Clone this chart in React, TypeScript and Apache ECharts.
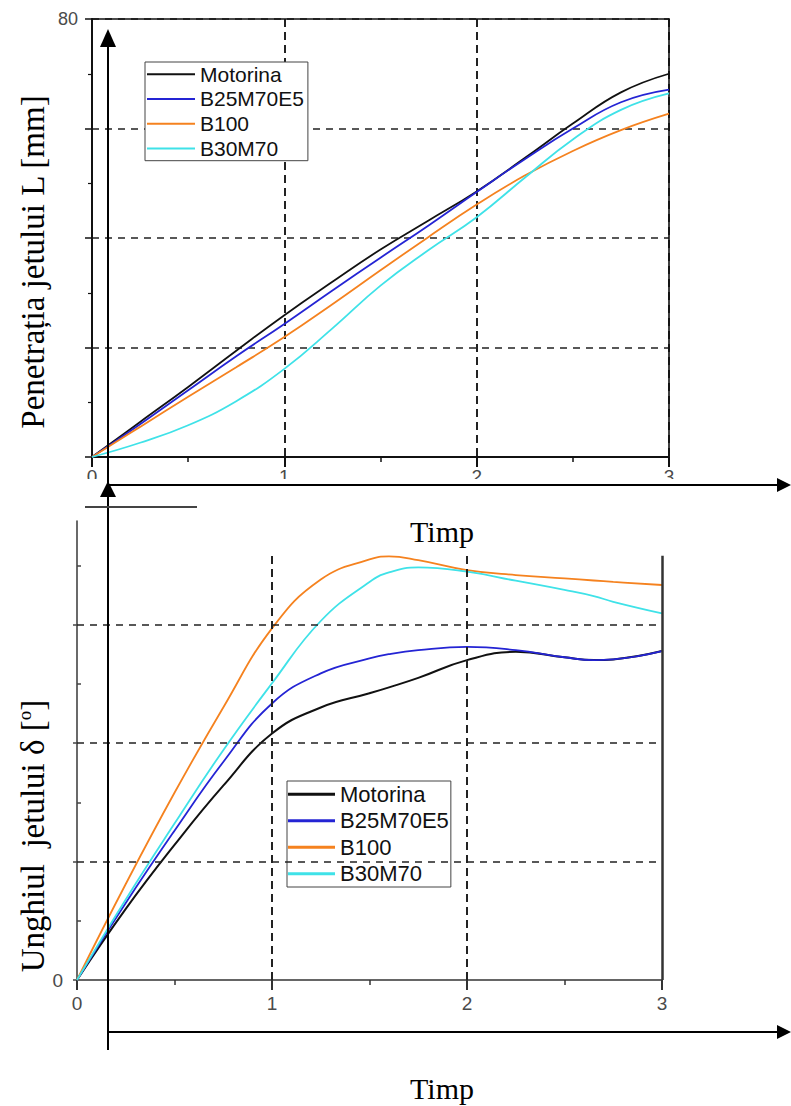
import React, { useEffect, useRef } from 'react';
import * as echarts from 'echarts';

const SANS = '"Liberation Sans", Arial, sans-serif';
const SERIF = '"Liberation Serif", "Times New Roman", serif';

const SERIES_NAMES = ['Motorina', 'B25M70E5', 'B100', 'B30M70'];
const COLORS = ['#111111', '#2424d4', '#f5821f', '#3fe2e8'];

// Top chart: jet penetration L [mm] vs time
const TOP_X = [0, 0.25, 0.5, 0.75, 1, 1.25, 1.5, 1.75, 2, 2.25, 2.5, 2.75, 3];
const TOP_MOTORINA = [0, 6.4, 12.8, 19.4, 25.9, 32.0, 37.9, 43.2, 48.5, 54.6, 60.9, 66.6, 70.0];
const TOP_B25M70E5 = [0, 6.0, 12.2, 18.4, 24.3, 30.4, 36.4, 42.3, 48.4, 54.4, 60.0, 64.8, 67.1];
const TOP_B100 = [0, 5.5, 11.0, 16.4, 21.9, 27.9, 34.1, 40.2, 46.1, 51.4, 55.9, 59.7, 62.7];
const TOP_B30M70 = [0, 2.6, 5.8, 10.2, 16.1, 23.5, 31.3, 37.8, 43.8, 51.0, 58.0, 63.4, 66.4];
const TOP_Y_LABELS = [80];
const TOP_X_LABELS = [0, 1, 2, 3];

// Bottom chart: jet angle delta vs time
const BOT_X = [0, 0.25, 0.5, 0.75, 1, 1.25, 1.5, 1.6, 1.75, 2, 2.25, 2.5, 2.65, 2.75, 3];
const BOT_MOTORINA = [0, 3.0, 5.7, 8.2, 10.4, 11.5, 12.1, 12.35, 12.75, 13.5, 13.85, 13.62, 13.5, 13.53, 13.88];
const BOT_B25M70E5 = [0, 3.25, 6.3, 9.2, 11.67, 12.94, 13.57, 13.75, 13.92, 14.06, 13.92, 13.62, 13.5, 13.53, 13.88];
const BOT_B100 = [0, 4.05, 7.9, 11.5, 14.84, 16.9, 17.75, 17.88, 17.72, 17.3, 17.09, 16.95, 16.86, 16.8, 16.67];
const BOT_B30M70 = [0, 3.4, 6.6, 9.7, 12.52, 15.15, 16.8, 17.2, 17.41, 17.23, 16.85, 16.46, 16.2, 15.96, 15.47];
const BOT_Y_MAX = 19.37;
const BOT_FRAME_TOP = 17.9;
const BOT_GRID_Y = [5, 10, 15];
const BOT_GRID_X = [1, 2];
const BOT_MAJOR_TICKS = [0, 5, 10, 15];
const BOT_MINOR_TICKS = [2.5, 7.5, 12.5, 17.5];

const TOP_SERIES = [TOP_MOTORINA, TOP_B25M70E5, TOP_B100, TOP_B30M70];
const BOT_SERIES = [BOT_MOTORINA, BOT_B25M70E5, BOT_B100, BOT_B30M70];

function buildOption() {
  const series: any[] = [];
  TOP_SERIES.forEach((ys, i) => {
    series.push({
      type: 'line',
      name: SERIES_NAMES[i],
      xAxisIndex: 0,
      yAxisIndex: 0,
      data: TOP_X.map((x, j) => [x, ys[j]]),
      smooth: 0.45,
      showSymbol: false,
      symbol: 'none',
      itemStyle: { color: COLORS[i] },
      lineStyle: { color: COLORS[i], width: 1.8 },
      z: 3,
    });
  });
  BOT_SERIES.forEach((ys, i) => {
    const s: any = {
      type: 'line',
      name: SERIES_NAMES[i],
      xAxisIndex: 2,
      yAxisIndex: 2,
      data: BOT_X.map((x, j) => [x, ys[j]]),
      smooth: 0.45,
      showSymbol: false,
      symbol: 'none',
      itemStyle: { color: COLORS[i] },
      lineStyle: { color: COLORS[i], width: i === 0 ? 2 : 1.8 },
      z: 3,
    };
    if (i === 0) {
      const dashedH = { type: [7, 6], color: '#222', width: 1.6 };
      const dashedV = { type: [8, 5], color: '#222', width: 2 };
      s.markLine = {
        silent: true,
        symbol: ['none', 'none'],
        label: { show: false },
        animation: false,
        data: [
          ...BOT_GRID_Y.map((v) => [
            { coord: [0, v], lineStyle: dashedH },
            { coord: [3, v] },
          ]),
          ...BOT_GRID_X.map((v) => [
            { coord: [v, 0], lineStyle: dashedV },
            { coord: [v, BOT_FRAME_TOP] },
          ]),
          [
            { coord: [3, 0], lineStyle: { type: 'solid', color: '#333', width: 2.5 } },
            { coord: [3, BOT_FRAME_TOP] },
          ],
        ],
      };
    }
    series.push(s);
  });

  const legendBase = {
    data: SERIES_NAMES,
    orient: 'vertical',
    icon: 'rect',
    borderColor: '#444',
    borderWidth: 1,
    backgroundColor: '#fff',
    selectedMode: false,
  };

  const lineShape = (x1: number, y1: number, x2: number, y2: number, stroke = '#000', w = 2) => ({
    type: 'line',
    shape: { x1, y1, x2, y2 },
    style: { stroke, lineWidth: w },
    z: 100,
    silent: true,
  });
  const tri = (pts: number[][]) => ({
    type: 'polygon',
    shape: { points: pts },
    style: { fill: '#000' },
    z: 101,
    silent: true,
  });

  return {
    animation: false,
    backgroundColor: '#fff',
    textStyle: { fontFamily: SANS },
    grid: [
      { left: 92, right: 122, top: 19, bottom: 649, containLabel: false, outerBoundsMode: 'none' },
      { left: 77, right: 129, top: 521, bottom: 126, containLabel: false, outerBoundsMode: 'none' },
    ],
    legend: [
      {
        ...legendBase,
        left: 145,
        top: 62,
        padding: [0, 4, 0, 2],
        itemGap: 0.5,
        itemWidth: 48,
        itemHeight: 2,
        textStyle: { fontSize: 21, lineHeight: 24.3, fontFamily: SANS, color: '#111' },
      },
      {
        ...legendBase,
        left: 287,
        top: 781,
        padding: [0, 2, 0, 1],
        itemGap: 0,
        itemWidth: 47,
        itemHeight: 3,
        textStyle: { fontSize: 22, lineHeight: 26.5, fontFamily: SANS, color: '#111' },
      },
    ],
    xAxis: [
      {
        gridIndex: 0,
        type: 'value',
        min: 0,
        max: 3,
        interval: 1,
        axisLine: { show: true, onZero: false, lineStyle: { color: '#111', width: 2 } },
        axisTick: { show: true, length: 10, lineStyle: { color: '#111', width: 2 } },
        minorTick: { show: true, splitNumber: 2, length: 5, lineStyle: { color: '#111', width: 1.5 } },
        axisLabel: {
          color: '#4a4a4a',
          fontSize: 19,
          fontFamily: SANS,
          margin: 10,
          formatter: (v: number) => (TOP_X_LABELS.includes(v) ? String(v) : ''),
        },
        splitLine: { show: true, lineStyle: { type: [8, 5], color: '#222', width: 2 } },
      },
      {
        gridIndex: 0,
        type: 'value',
        position: 'top',
        min: 0,
        max: 3,
        axisLine: { show: true, onZero: false, lineStyle: { color: '#111', width: 1.6 } },
        axisTick: { show: false },
        axisLabel: { show: false },
        splitLine: { show: false },
      },
      {
        gridIndex: 1,
        type: 'value',
        min: 0,
        max: 3,
        interval: 1,
        axisLine: { show: true, onZero: false, lineStyle: { color: '#333', width: 1.6 } },
        axisTick: { show: true, length: 10, lineStyle: { color: '#333', width: 2 } },
        minorTick: { show: true, splitNumber: 2, length: 5, lineStyle: { color: '#333', width: 1.5 } },
        axisLabel: { color: '#4a4a4a', fontSize: 19, fontFamily: SANS, margin: 14 },
        splitLine: { show: false },
      },
    ],
    yAxis: [
      {
        gridIndex: 0,
        type: 'value',
        min: 0,
        max: 80,
        interval: 20,
        axisLine: { show: true, onZero: false, lineStyle: { color: '#111', width: 2 } },
        axisTick: { show: true, length: 7, lineStyle: { color: '#111', width: 1.5 } },
        minorTick: { show: true, splitNumber: 2, length: 4, lineStyle: { color: '#111', width: 1.2 } },
        axisLabel: {
          color: '#4a4a4a',
          fontSize: 18,
          fontFamily: SANS,
          margin: 14,
          formatter: (v: number) => (TOP_Y_LABELS.includes(v) ? String(v) : ''),
        },
        splitLine: { show: true, lineStyle: { type: [7, 6], color: '#222', width: 1.6 } },
      },
      {
        gridIndex: 0,
        type: 'value',
        position: 'right',
        min: 0,
        max: 80,
        axisLine: { show: true, onZero: false, lineStyle: { color: '#111', width: 1.6 } },
        axisTick: { show: false },
        axisLabel: { show: false },
        splitLine: { show: false },
      },
      {
        gridIndex: 1,
        type: 'value',
        min: 0,
        max: BOT_Y_MAX,
        interval: 5,
        axisLine: { show: true, onZero: false, lineStyle: { color: '#444', width: 1.6 } },
        axisTick: { show: true, length: 4, customValues: BOT_MAJOR_TICKS, lineStyle: { color: '#444', width: 1.5 } },
        axisLabel: { color: '#4a4a4a', fontSize: 19, fontFamily: SANS, margin: 14, customValues: [0] },
        splitLine: { show: false },
      },
      {
        gridIndex: 1,
        type: 'value',
        min: 0,
        max: BOT_Y_MAX,
        interval: 5,
        axisLine: { show: false },
        axisTick: { show: true, length: 4, customValues: BOT_MINOR_TICKS, lineStyle: { color: '#444', width: 1.5 } },
        axisLabel: { show: false },
        splitLine: { show: false },
      },
    ],
    series,
    graphic: [
      // white band that crops the lower half of the top chart's x labels
      { type: 'rect', shape: { x: 60, y: 479, width: 640, height: 6 }, style: { fill: '#fff' }, z: 50, silent: true },
      // overlaid arrows
      lineShape(108, 1050, 108, 40),
      tri([[108, 29], [100, 47], [116, 47]]),
      tri([[108, 481], [100, 497], [116, 497]]),
      lineShape(108, 485, 780, 485),
      tri([[791, 485], [777, 478], [777, 492]]),
      lineShape(108, 1032, 780, 1032),
      tri([[791, 1032], [777, 1025], [777, 1039]]),
      lineShape(85, 507, 197, 507, '#444', 2),
      // titles
      {
        type: 'text',
        x: 442,
        y: 531,
        z: 100,
        style: { text: 'Timp', font: `30px ${SERIF}`, fill: '#000', textAlign: 'center', textVerticalAlign: 'middle' },
      },
      {
        type: 'text',
        x: 442,
        y: 1088,
        z: 100,
        style: { text: 'Timp', font: `30px ${SERIF}`, fill: '#000', textAlign: 'center', textVerticalAlign: 'middle' },
      },
      {
        type: 'text',
        x: 33,
        y: 262,
        rotation: Math.PI / 2,
        z: 100,
        style: {
          text: 'Penetrația jetului L [mm]',
          font: `33px ${SERIF}`,
          fill: '#000',
          textAlign: 'center',
          textVerticalAlign: 'middle',
        },
      },
      {
        type: 'text',
        x: 33,
        y: 836,
        rotation: Math.PI / 2,
        z: 100,
        style: {
          text: '{a|Unghiul  jetului δ [}{s|o}{a|]}',
          fill: '#000',
          textAlign: 'center',
          textVerticalAlign: 'middle',
          rich: {
            a: { fontSize: 33, fontFamily: SERIF, lineHeight: 36, fill: '#000' },
            s: { fontSize: 19, fontFamily: SERIF, lineHeight: 19, verticalAlign: 'top', fill: '#000' },
          },
        },
      },
    ],
  };
}

export default function App() {
  const ref = useRef<HTMLDivElement>(null);
  useEffect(() => {
    if (!ref.current) return;
    const chart = echarts.init(ref.current, null, { renderer: 'svg' });
    chart.setOption(buildOption() as any);
    return () => chart.dispose();
  }, []);
  return (
    <div
      ref={ref}
      style={{ position: 'absolute', left: 0, top: 0, width: 791, height: 1106, background: '#fff' }}
    />
  );
}
